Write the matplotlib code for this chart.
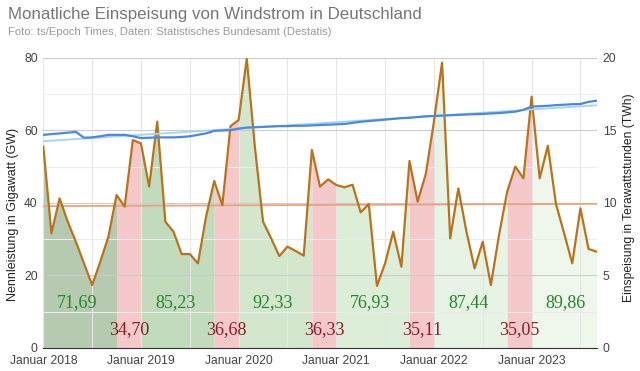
import numpy as np
import matplotlib
matplotlib.use("Agg")
import matplotlib.pyplot as plt

plt.rcParams['font.family'] = ['Liberation Sans', 'DejaVu Sans']

# monthly wind feed-in, TWh (Jan 2018 .. Sep 2023)
wind_twh = [13.88, 7.91, 10.32, 8.71, 7.33, 5.84, 4.34, 5.95, 7.68, 10.55, 9.75, 14.34,
            14.11, 11.13, 15.61, 8.71, 8.02, 6.48, 6.48, 5.84, 9.06, 11.52, 9.86, 15.30,
            15.72, 19.95, 13.86, 8.71, 7.56, 6.34, 6.99, 6.69, 6.37, 13.66, 11.13, 11.63,
            11.24, 11.08, 11.26, 9.36, 9.93, 4.28, 5.84, 8.02, 5.61, 12.90, 10.09, 12.00,
            15.61, 19.68, 7.56, 11.01, 8.02, 5.49, 7.33, 4.34, 7.79, 10.78, 12.51, 11.70,
            17.33, 11.70, 13.95, 9.93, 7.91, 5.84, 9.63, 6.83, 6.64]

# installed capacity, GW
capacity_gw = [58.8, 59.0, 59.2, 59.4, 59.6, 58.0, 58.1, 58.4, 58.8, 58.8, 58.8, 58.4,
               57.9, 58.0, 58.1, 58.1, 58.1, 58.2, 58.4, 58.8, 59.2, 59.9, 60.0, 60.1,
               60.5, 60.8, 60.9, 61.0, 61.1, 61.2, 61.2, 61.3, 61.3, 61.4, 61.5, 61.6,
               61.7, 61.8, 62.1, 62.4, 62.6, 62.8, 63.0, 63.2, 63.4, 63.5, 63.7, 63.9,
               64.0, 64.1, 64.2, 64.3, 64.4, 64.5, 64.55, 64.7, 64.8, 65.0, 65.2, 65.7,
               66.6, 66.7, 66.8, 67.0, 67.1, 67.25, 67.3, 67.9, 68.2]

years = [2018, 2019, 2020, 2021, 2022, 2023]
sum_jan_sep = [71.69, 85.23, 92.33, 76.93, 87.44, 89.86]
sum_oct_dec = [34.70, 36.68, 36.33, 35.11, 35.05]
tick_labels = ["Januar %d" % y for y in years]

green_fills = ['#b6c9b1', '#c2dbbc', '#d2e7cd', '#dcedd8', '#e7f3e4', '#eff7ed']
red_fill = '#f5c9ca'

x = np.arange(len(wind_twh))
wind = np.array(wind_twh)
cap = np.array(capacity_gw)

fig = plt.figure(figsize=(6.4, 3.71), dpi=100)
ax = fig.add_axes([0.0677, 0.062, 0.8646, 0.7817])
ax2 = ax.twinx()

# base axes: TWh (right side), fills + brown line
ax.yaxis.tick_right()
ax.yaxis.set_label_position('right')
ax.set_ylim(0, 20)
ax.set_xlim(0, len(x) - 1)
ax.set_yticks([0, 5, 10, 15, 20])
ax.set_yticks([2.5, 7.5, 12.5, 17.5], minor=True)
ax.set_xticks(np.arange(0, len(x), 12))
ax.set_xticks(np.arange(6, len(x), 12), minor=True)
ax.set_xticklabels(tick_labels)
ax.set_axisbelow('line')
ax.grid(which='major', axis='y', color='#cccccc', lw=0.8)
ax.grid(which='minor', axis='y', color='#ececec', lw=0.8)
ax.grid(which='both', axis='x', color='#e6e6e6', lw=0.8)
ax.tick_params(which='both', length=0, labelsize=8.7, colors='#444444')
ax.tick_params(axis='y', pad=4.5)
ax.tick_params(axis='x', pad=5)
for s in ['top', 'left', 'right']:
    ax.spines[s].set_visible(False)
ax.spines['bottom'].set_color('#333333')

for i, yr in enumerate(years):
    start = i * 12
    g_end = min(start + 9, len(x) - 1)
    seg = slice(start, g_end + 1)
    ax.fill_between(x[seg], 0, wind[seg], color=green_fills[i], lw=0)
    if i < len(sum_oct_dec):
        seg = slice(start + 9, start + 13)
        ax.fill_between(x[seg], 0, wind[seg], color=red_fill, lw=0)

ax.plot(x, wind, color='#b8731c', lw=1.6, zorder=3)
k, d = np.polyfit(x, wind, 1)
ax.plot(x, k * x + d, color='#e8a47e', lw=1.3, zorder=2.5)

for i, v in enumerate(sum_jan_sep):
    ax.text(i * 12 + 4.2, 3.1, ("%.2f" % v).replace('.', ','), color='#23872a',
            fontsize=13, family='Liberation Serif', ha='center', va='center', zorder=4)
for i, v in enumerate(sum_oct_dec):
    ax.text(i * 12 + 10.5, 1.3, ("%.2f" % v).replace('.', ','), color='#8e1b26',
            fontsize=13, family='Liberation Serif', ha='center', va='center', zorder=4)

ax.set_ylabel("Einspeisung in Terawattstunden (TWh)", fontsize=8.7, color='#222222')
ax.yaxis.set_label_coords(1.047, 0.52)

# twin axes: GW (left side), capacity
ax2.yaxis.tick_left()
ax2.yaxis.set_label_position('left')
ax2.set_ylim(0, 80)
ax2.set_yticks([0, 20, 40, 60, 80])
ax2.tick_params(length=0, labelsize=8.7, colors='#444444', pad=4)
for s in ['top', 'left', 'right', 'bottom']:
    ax2.spines[s].set_visible(False)
ax2.plot(x, cap, color='#4a89dc', lw=1.6, zorder=3)
k2, d2 = np.polyfit(x, cap, 1)
ax2.plot(x, k2 * x + d2, color='#a3d3f3', lw=1.3, zorder=2.5)
ax2.set_ylabel("Nennleistung in Gigawatt (GW)", fontsize=9, color='#222222')
ax2.yaxis.set_label_coords(-0.044, 0.462)

fig.text(8 / 640, 1 - 18.5 / 371, "Monatliche Einspeisung von Windstrom in Deutschland",
         fontsize=12.2, color='#777777', va='baseline')
fig.text(8 / 640, 1 - 35 / 371, "Foto: ts/Epoch Times, Daten: Statistisches Bundesamt (Destatis)",
         fontsize=8.1, color='#9a9a9a', va='baseline')

fig.savefig("out.png", dpi=100)
